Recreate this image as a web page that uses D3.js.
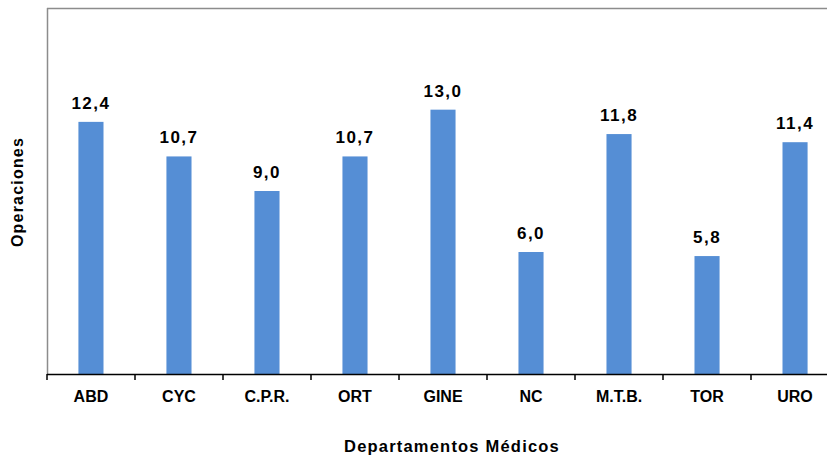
<!DOCTYPE html>
<html>
<head>
<meta charset="utf-8">
<script src="https://cdn.jsdelivr.net/npm/d3@7"></script>
<style>
  body { margin: 0; background: #fff; }
  text { font-family: "Liberation Sans", Arial, sans-serif; font-weight: bold; fill: #000; }
</style>
</head>
<body>
<div id="app"></div>
<script>
var departments = ['ABD', 'CYC', 'C.P.R.', 'ORT', 'GINE', 'NC', 'M.T.B.', 'TOR', 'URO'];
var values = [12.4, 10.7, 9.0, 10.7, 13.0, 6.0, 11.8, 5.8, 11.4];

var width = 827, height = 459;
var plotLeft = 47, plotTop = 8, plotBottom = 374, band = 88;

var svg = d3.select('#app')
  .append('svg')
    .attr('width', width)
    .attr('height', height);

var x = d3.scaleBand()
    .domain(departments)
    .range([plotLeft, plotLeft + band * departments.length])
    .paddingInner(0.715)
    .paddingOuter(0.357);

var y = d3.scaleLinear()
    .domain([0, 18])
    .range([plotBottom, plotTop]);

// plot area border (top and left)
svg.append('line')
    .attr('x1', plotLeft).attr('x2', width)
    .attr('y1', plotTop + 0.5).attr('y2', plotTop + 0.5)
    .attr('stroke', '#8c8c8c').attr('stroke-width', 1.5);
svg.append('line')
    .attr('x1', plotLeft + 0.5).attr('x2', plotLeft + 0.5)
    .attr('y1', plotTop).attr('y2', plotBottom)
    .attr('stroke', '#8c8c8c').attr('stroke-width', 1.5);

svg.append('g')
  .selectAll('rect')
    .data(values)
  .enter().append('rect')
    .attr('x', function(d, i) { return x(departments[i]); })
    .attr('width', x.bandwidth())
    .attr('y', function(d) { return y(d); })
    .attr('height', function(d) { return plotBottom - y(d); })
    .attr('fill', '#558ed5');

svg.append('g')
  .selectAll('text')
    .data(values)
  .enter().append('text')
    .attr('x', function(d, i) { return x(departments[i]) + x.bandwidth() / 2; })
    .attr('y', function(d) { return y(d) - 13; })
    .attr('text-anchor', 'middle')
    .style('font-size', '17px')
    .style('letter-spacing', '1.5px')
    .text(function(d) { return d.toFixed(1).replace('.', ','); });

// x axis with ticks between categories
var axis = svg.append('g')
    .attr('transform', 'translate(0,' + plotBottom + ')');
axis.append('line')
    .attr('x1', plotLeft).attr('x2', width)
    .attr('y1', 0.5).attr('y2', 0.5)
    .attr('stroke', '#000').attr('stroke-width', 1.5);
axis.selectAll('line.tick')
    .data(d3.range(departments.length + 1))
  .enter().append('line')
    .attr('class', 'tick')
    .attr('x1', function(i) { return plotLeft + i * band; })
    .attr('x2', function(i) { return plotLeft + i * band; })
    .attr('y1', 0).attr('y2', 6)
    .attr('stroke', '#000').attr('stroke-width', 1.5);
axis.selectAll('text')
    .data(departments)
  .enter().append('text')
    .attr('x', function(d) { return x(d) + x.bandwidth() / 2; })
    .attr('y', 28)
    .attr('text-anchor', 'middle')
    .style('font-size', '16px')
    .text(function(d) { return d; });

svg.append('text')
    .attr('x', 452)
    .attr('y', 452)
    .attr('text-anchor', 'middle')
    .style('font-size', '16.5px')
    .style('letter-spacing', '1.2px')
    .text('Departamentos Médicos');

svg.append('text')
    .attr('transform', 'translate(23,192) rotate(-90)')
    .attr('text-anchor', 'middle')
    .style('font-size', '16px')
    .style('letter-spacing', '1.2px')
    .text('Operaciones');
</script>
</body>
</html>
